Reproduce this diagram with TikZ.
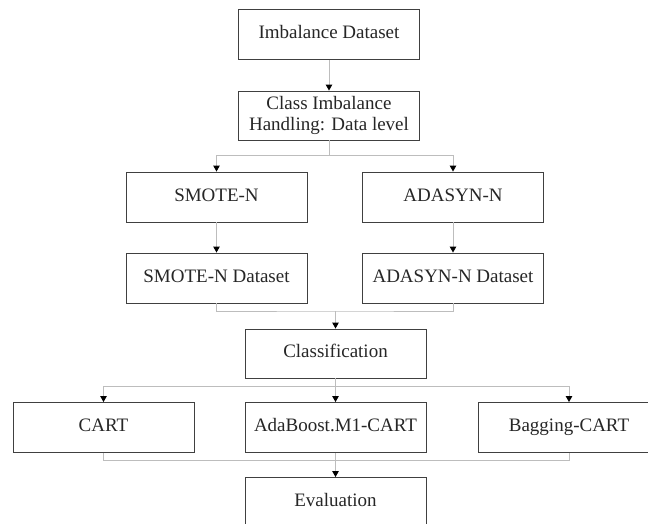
\documentclass[tikz,border=0pt]{standalone}
\usepackage{fontspec}
\setmainfont{Liberation Serif}
\usetikzlibrary{arrows.meta}
\definecolor{boxline}{HTML}{404040}
\definecolor{connline}{HTML}{BDBDBD}
\tikzset{
  flowbox/.style={draw=boxline, line width=0.9pt, minimum width=181pt, minimum height=50pt,
    inner sep=0pt, align=center, font=\fontsize{19}{20.5}\selectfont, text=black!85},
  onebox/.style={flowbox, text height=12.5pt, text depth=4pt},
  connect/.style={draw=connline, line width=1pt, -{Triangle[width=6.5pt,length=6pt,color=black]}},
  plainline/.style={draw=connline, line width=1pt}
}
\begin{document}
\begin{tikzpicture}[x=1pt,y=-1pt]
\useasboundingbox (0,0) rectangle (648,524);
\node[onebox] (imb) at (329,34.5) {Imbalance Dataset};
\node[flowbox, minimum height=49pt] (cih) at (329,115.5) {Class Imbalance\\Handling: Data level};
\node[onebox] (smote) at (216.5,197) {SMOTE-N};
\node[onebox] (adasyn) at (453,197) {ADASYN-N};
\node[onebox] (smoted) at (216.5,278) {SMOTE-N Dataset};
\node[onebox] (adasynd) at (453,278) {ADASYN-N Dataset};
\node[onebox, minimum height=49pt] (cls) at (335.5,353.5) {Classification};
\node[onebox] (cart) at (103.5,427.5) {CART};
\node[onebox] (ada) at (335.5,427.5) {AdaBoost.M1-CART};
\node[onebox] (bag) at (569,427.5) {Bagging-CART};
\node[onebox] (eval) at (335.5,502.5) {Evaluation};

\coordinate (b1) at (329,156);
\coordinate (m1) at (335.5,311);
\coordinate (b2) at (335.5,386);
\coordinate (m2) at (335.5,460.5);

\draw[connect] (imb) -- (cih);
\draw[plainline] (cih.south) -- (b1);
\draw[connect] (b1) -| (smote.north);
\draw[connect] (b1) -| (adasyn.north);
\draw[connect] (smote) -- (smoted);
\draw[connect] (adasyn) -- (adasynd);
\draw[plainline] (smoted.south) |- (m1) -| (adasynd.south);
\draw[connect] (m1) -- (cls.north);
\draw[plainline] (cls.south) -- (b2);
\draw[connect] (b2) -| (cart.north);
\draw[connect] (b2) -- (ada.north);
\draw[connect] (b2) -| (bag.north);
\draw[plainline] (cart.south) |- (m2) -| (bag.south);
\draw[plainline] (ada.south) -- (m2);
\draw[connect] (m2) -- (eval.north);
\end{tikzpicture}
\end{document}
